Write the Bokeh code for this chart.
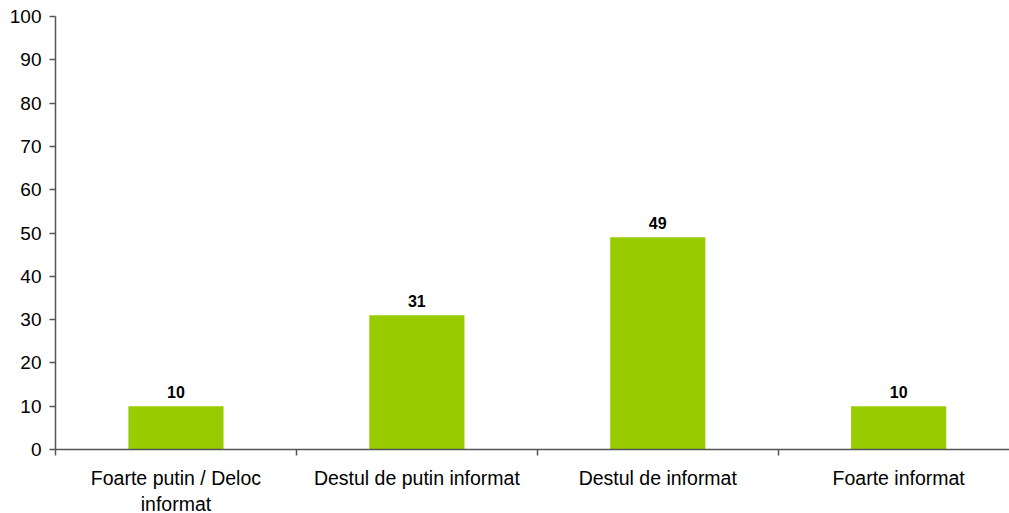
from bokeh.plotting import figure
from bokeh.models import ColumnDataSource, FixedTicker, Range1d
from bokeh.core.properties import value
from bokeh.embed import file_html
from bokeh.resources import INLINE

categories = ["Foarte putin / Deloc\ninformat", "Destul de putin informat",
              "Destul de informat", "Foarte informat"]
values = [10, 31, 49, 10]
y_ticks = [0, 10, 20, 30, 40, 50, 60, 70, 80, 90, 100]

xs = [i + 0.5 for i in range(len(categories))]
src = ColumnDataSource(dict(x=xs, top=values, label=[str(v) for v in values]))

p = figure(width=1009, height=513, output_backend="svg", toolbar_location=None,
           x_range=Range1d(0, 3.96), y_range=Range1d(0, 100),
           min_border_left=55, min_border_right=0, min_border_top=16, min_border_bottom=64)
p.frame_width = 954
p.frame_height = 433
p.outline_line_color = None
p.xgrid.visible = False
p.ygrid.visible = False
p.background_fill_color = "white"

p.vbar(x="x", top="top", width=0.395, bottom=0, source=src,
       fill_color="#99CC00", line_color=None)
p.text(x="x", y="top", text="label", source=src, y_offset=-8,
       text_align="center", text_baseline="bottom",
       text_font=value("Liberation Sans Narrow, Liberation Sans, Arial"),
       text_font_style="bold", text_font_size="16px", text_color="black")

axis_col = "#555555"
p.xaxis.ticker = FixedTicker(ticks=xs, minor_ticks=list(range(len(categories) + 1)))
p.xaxis.major_label_overrides = {x: c for x, c in zip(xs, categories)}
p.xaxis.major_tick_line_color = None
p.xaxis.major_tick_out = 0
p.xaxis.major_tick_in = 0
p.xaxis.minor_tick_line_color = axis_col
p.xaxis.minor_tick_line_width = 1.5
p.xaxis.minor_tick_out = 6
p.xaxis.minor_tick_in = 0
p.xaxis.major_label_standoff = 11
p.xaxis.major_label_text_font = "Liberation Sans"
p.xaxis.major_label_text_font_size = "19.5px"
p.xaxis.major_label_text_color = "black"
p.xaxis.axis_line_color = axis_col
p.xaxis.axis_line_width = 1.5

p.yaxis.ticker = FixedTicker(ticks=y_ticks, minor_ticks=[])
p.yaxis.major_tick_out = 6
p.yaxis.major_tick_in = 0
p.yaxis.major_tick_line_color = axis_col
p.yaxis.major_tick_line_width = 1.5
p.yaxis.minor_tick_line_color = None
p.yaxis.major_label_standoff = 8
p.yaxis.major_label_text_font = "Liberation Sans"
p.yaxis.major_label_text_font_size = "19px"
p.yaxis.major_label_text_color = "black"
p.yaxis.axis_line_color = axis_col
p.yaxis.axis_line_width = 1.5

open("out.html", "w").write(file_html(p, INLINE))
